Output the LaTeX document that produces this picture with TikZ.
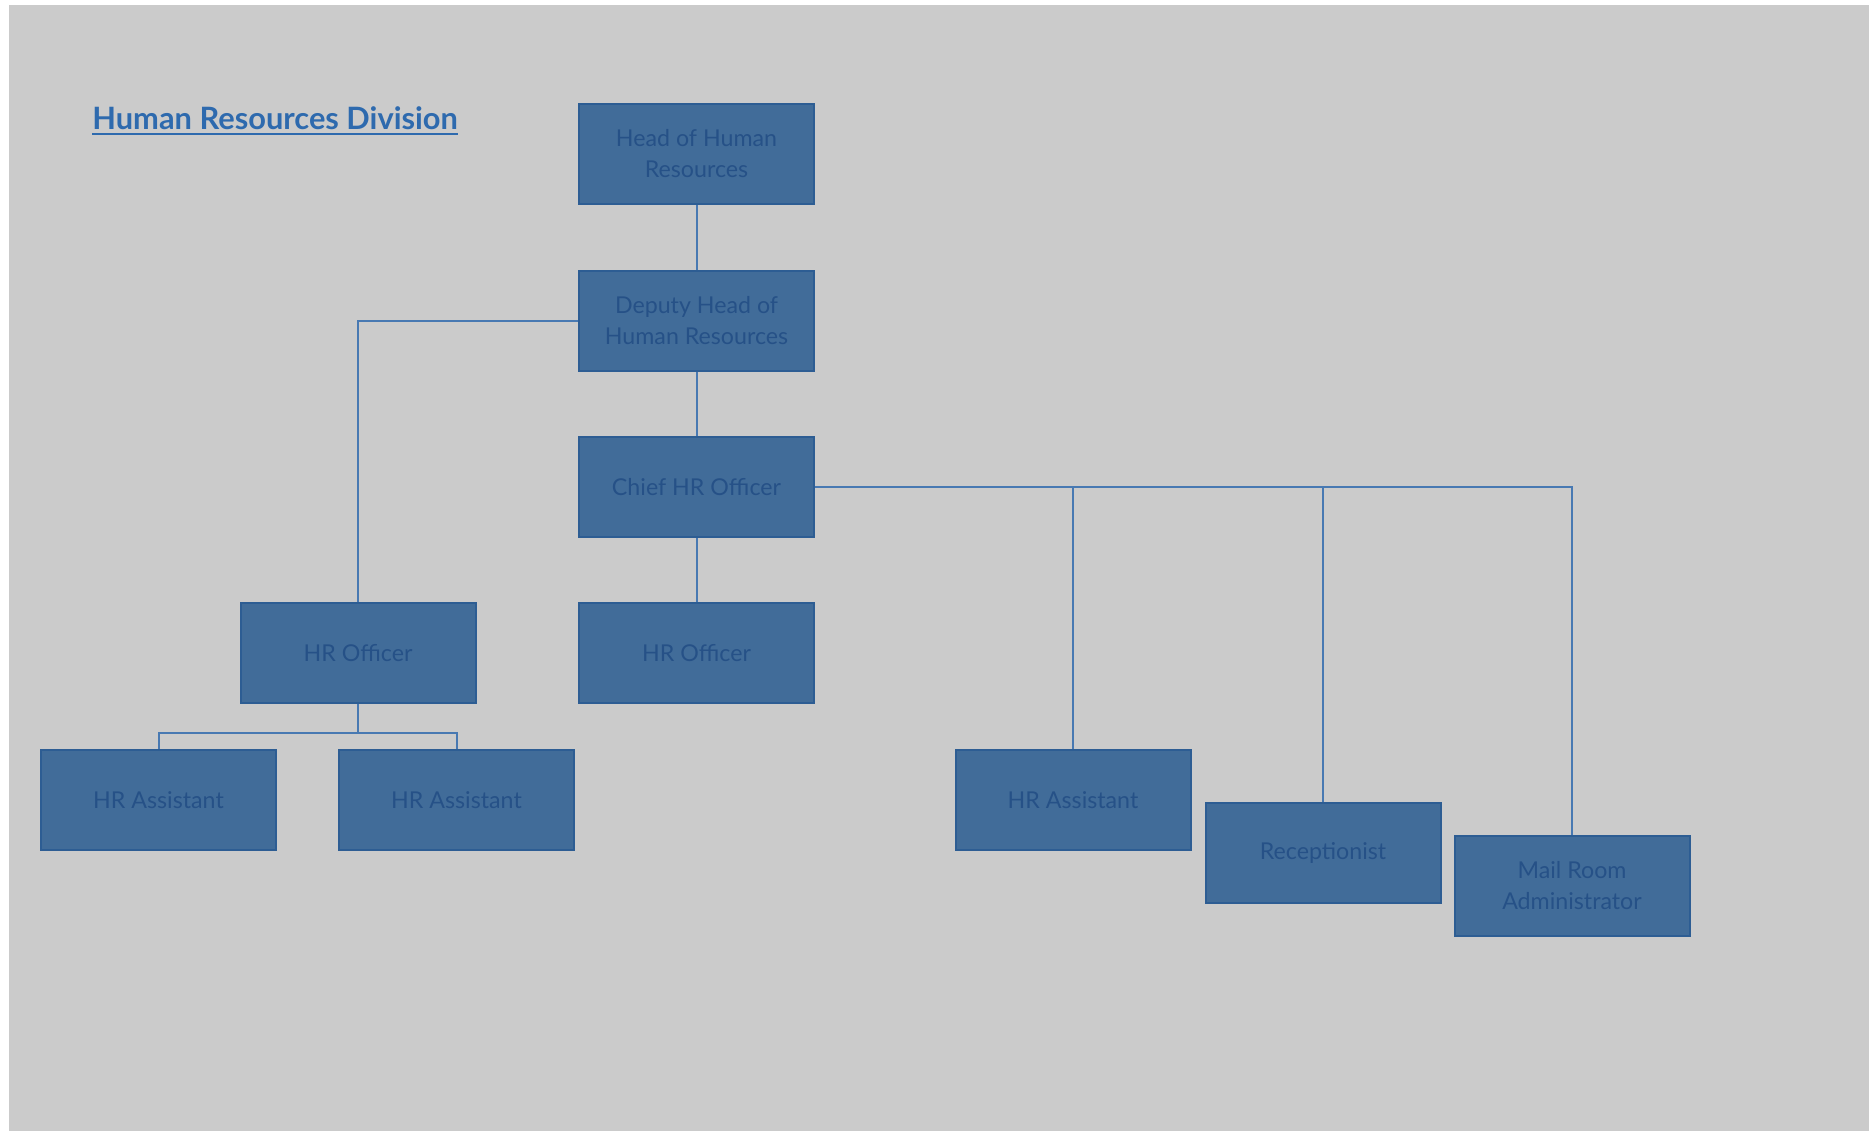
\documentclass[tikz,border=0pt]{standalone}
\usepackage{fontspec}
\setmainfont{Lato}
\usepackage{tikz}
\usetikzlibrary{positioning}
\definecolor{pagegray}{HTML}{CBCBCB}
\definecolor{boxfill}{HTML}{416C99}
\definecolor{boxline}{HTML}{2D5D93}
\definecolor{boxtext}{HTML}{265187}
\definecolor{linkblue}{HTML}{4879B2}
\definecolor{titleblue}{HTML}{2E6AAE}
\tikzset{post/.style = {draw = boxline, fill = boxfill, line width = 1pt,
                        minimum width = 117.5pt, minimum height = 50pt,
                        inner sep = 0, align = center, text = boxtext,
                        font = \fontsize{11.6}{15.5}\selectfont}}
\tikzset{link/.style = {draw = linkblue, line width = 1pt}}

\begin{document}
\begin{tikzpicture}[x = 0.5pt, y = -0.5pt]
    \useasboundingbox (0, 0) rectangle (1872, 1131);
    \fill [pagegray] (9, 5) rectangle (1869, 1131);

    \node [anchor = base west, inner sep = 0, text = titleblue,
           font = \fontsize{15.4}{18}\selectfont\bfseries] (title) at (92, 129) {Human Resources Division};
    \draw [titleblue, line width = 0.8pt] ([yshift = -2.4pt] title.base west) -- ([yshift = -2.4pt] title.base east);

    \node [post] (head) at (696.5, 154) {Head of Human\\Resources};
    \node [post] (deputy) at (696.5, 320.5) {Deputy Head of\\Human Resources};
    \node [post] (chief) at (696.5, 487) {Chief HR Officer};
    \node [post] (officerA) at (358, 653) {HR Officer};
    \node [post] (officerB) at (696.5, 653) {HR Officer};
    \node [post] (assistA) at (158.5, 800) {HR Assistant};
    \node [post] (assistB) at (456.5, 800) {HR Assistant};
    \node [post] (assistC) at (1073, 800) {HR Assistant};
    \node [post] (recep) at (1323, 853) {Receptionist};
    \node [post] (mail) at (1572, 886) {Mail Room\\Administrator};

    \coordinate (busA) at (358, 733);

    \draw [link] (head) -- (deputy);
    \draw [link] (deputy) -- (chief);
    \draw [link] (chief) -- (officerB);
    \draw [link] (deputy.west) -| (officerA.north);
    \draw [link] (officerA.south) -- (busA) -| (assistA.north);
    \draw [link] (busA) -| (assistB.north);
    \draw [link] (chief.east) -| (mail.north);
    \draw [link] (chief.east) -| (assistC.north);
    \draw [link] (chief.east) -| (recep.north);
  \end{tikzpicture}
\end{document}
